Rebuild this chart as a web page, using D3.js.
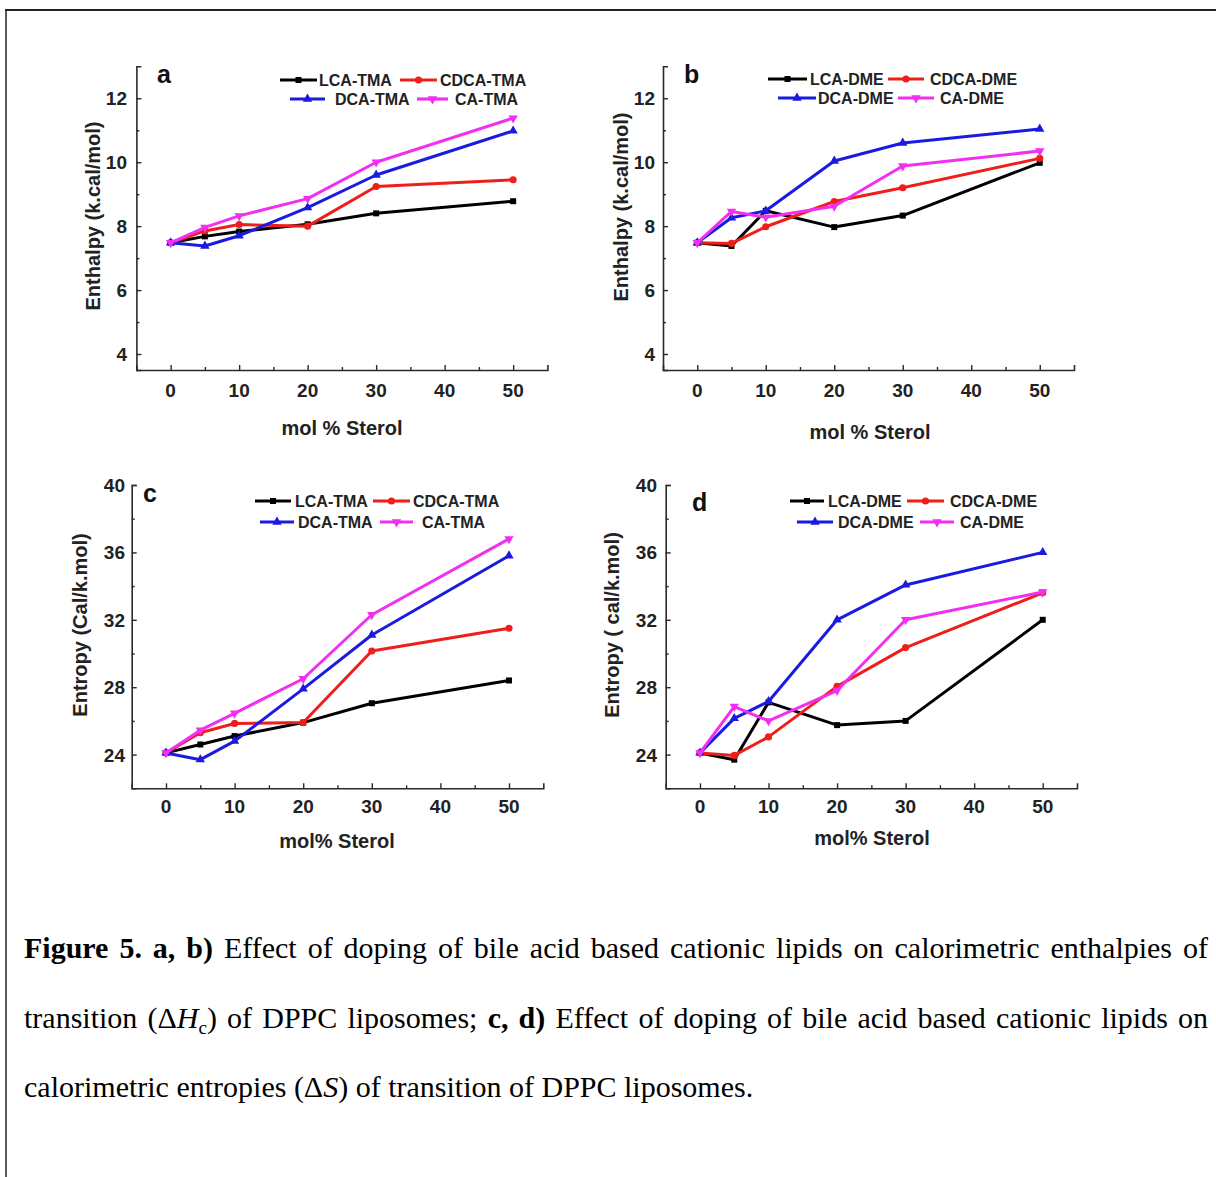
<!DOCTYPE html>
<html>
<head>
<meta charset="utf-8">
<script src="https://cdn.jsdelivr.net/npm/d3@7"></script>
<style>
  html, body { margin: 0; padding: 0; background: #fff; }
  svg { display: block; }
</style>
</head>
<body>
<script>
// ---------------- DATA ----------------
const molPercent = [0, 5, 10, 20, 30, 50];
const xTicks = [0, 10, 20, 30, 40, 50];
const enthalpyTicks = [4, 6, 8, 10, 12];
const entropyTicks = [24, 28, 32, 36, 40];

const seriesTMA = ["LCA-TMA", "CDCA-TMA", "DCA-TMA", "CA-TMA"];
const seriesDME = ["LCA-DME", "CDCA-DME", "DCA-DME", "CA-DME"];

// panel a: enthalpy, TMA
const enthalpyLCA_TMA  = [7.48, 7.68, 7.83, 8.06, 8.40, 8.78];
const enthalpyCDCA_TMA = [7.48, 7.85, 8.05, 8.00, 9.24, 9.45];
const enthalpyDCA_TMA  = [7.48, 7.38, 7.70, 8.58, 9.60, 10.98];
const enthalpyCA_TMA   = [7.48, 7.96, 8.32, 8.86, 10.00, 11.38];

// panel b: enthalpy, DME
const enthalpyLCA_DME  = [7.48, 7.38, 8.48, 7.97, 8.33, 9.98];
const enthalpyCDCA_DME = [7.48, 7.46, 7.98, 8.77, 9.20, 10.12];
const enthalpyDCA_DME  = [7.48, 8.26, 8.48, 10.04, 10.60, 11.04];
const enthalpyCA_DME   = [7.48, 8.46, 8.28, 8.62, 9.88, 10.35];

// panel c: entropy, TMA
const entropyLCA_TMA  = [24.1, 24.6, 25.1, 25.9, 27.05, 28.4];
const entropyCDCA_TMA = [24.1, 25.3, 25.85, 25.9, 30.15, 31.5];
const entropyDCA_TMA  = [24.1, 23.7, 24.8, 27.9, 31.1, 35.8];
const entropyCA_TMA   = [24.1, 25.45, 26.45, 28.5, 32.3, 36.8];

// panel d: entropy, DME
const entropyLCA_DME  = [24.1, 23.7, 27.1, 25.75, 26.0, 32.0];
const entropyCDCA_DME = [24.1, 23.95, 25.05, 28.05, 30.35, 33.6];
const entropyDCA_DME  = [24.1, 26.15, 27.15, 32.0, 34.07, 36.0];
const entropyCA_DME   = [24.1, 26.85, 26.0, 27.8, 32.0, 33.65];

// ---------------- STYLE ----------------
const colors = ["#000000", "#ee1f1a", "#1a1ae0", "#f22ff0"];
const symbols = [d3.symbolSquare, d3.symbolCircle, d3.symbolTriangle, "down"];

const W = 1216, H = 1177;
const svg = d3.select("body").append("svg")
  .attr("width", W).attr("height", H)
  .style("font-family", "'Liberation Sans', Arial, sans-serif");

// border
svg.append("line").attr("x1", 5).attr("x2", W).attr("y1", 10).attr("y2", 10)
  .attr("stroke", "#222").attr("stroke-width", 2);
svg.append("line").attr("x1", 6).attr("x2", 6).attr("y1", 10).attr("y2", H)
  .attr("stroke", "#222").attr("stroke-width", 1.5);

const panels = [
  {
    letter: "a", letterX: 157, letterY: 83,
    xRange: [136.4, 547.4], yRange: [370, 66.3], yDomain: [3.5, 13],
    yTicks: enthalpyTicks, yMinor: [5, 7, 9, 11],
    xLabelY: 397, yLabelRight: 127,
    xTitle: "mol % Sterol", xTitleX: 342, xTitleY: 435,
    yTitle: "Enthalpy (k.cal/mol)", yTitleX: 93, yTitleY: 216,
    names: seriesTMA,
    values: [enthalpyLCA_TMA, enthalpyCDCA_TMA, enthalpyDCA_TMA, enthalpyCA_TMA],
    legend: [
      { y: 80, x1: 280, x2: 317, tx: 319 },
      { y: 80, x1: 400, x2: 437, tx: 440 },
      { y: 99, x1: 290, x2: 325, tx: 335 },
      { y: 99, x1: 417, x2: 448, tx: 455 }
    ]
  },
  {
    letter: "b", letterX: 684, letterY: 83,
    xRange: [663, 1074], yRange: [370, 66.3], yDomain: [3.5, 13],
    yTicks: enthalpyTicks, yMinor: [5, 7, 9, 11],
    xLabelY: 397, yLabelRight: 655,
    xTitle: "mol % Sterol", xTitleX: 870, xTitleY: 439,
    yTitle: "Enthalpy (k.cal/mol)", yTitleX: 621, yTitleY: 207,
    names: seriesDME,
    values: [enthalpyLCA_DME, enthalpyCDCA_DME, enthalpyDCA_DME, enthalpyCA_DME],
    legend: [
      { y: 79, x1: 768, x2: 807, tx: 810 },
      { y: 79, x1: 888, x2: 924, tx: 930 },
      { y: 98, x1: 778, x2: 816, tx: 818 },
      { y: 98, x1: 898, x2: 934, tx: 940 }
    ]
  },
  {
    letter: "c", letterX: 143, letterY: 502,
    xRange: [131.7, 543.3], yRange: [788.3, 485], yDomain: [22, 40],
    yTicks: entropyTicks, yMinor: [26, 30, 34, 38],
    xLabelY: 813, yLabelRight: 125,
    xTitle: "mol% Sterol", xTitleX: 337, xTitleY: 848,
    yTitle: "Entropy (Cal/k.mol)", yTitleX: 80, yTitleY: 625,
    names: seriesTMA,
    values: [entropyLCA_TMA, entropyCDCA_TMA, entropyDCA_TMA, entropyCA_TMA],
    legend: [
      { y: 501, x1: 255, x2: 291, tx: 295 },
      { y: 501, x1: 373, x2: 410, tx: 413 },
      { y: 522, x1: 260, x2: 294, tx: 298 },
      { y: 522, x1: 380, x2: 413, tx: 422 }
    ]
  },
  {
    letter: "d", letterX: 692, letterY: 511,
    xRange: [665.7, 1077], yRange: [788.3, 485], yDomain: [22, 40],
    yTicks: entropyTicks, yMinor: [26, 30, 34, 38],
    xLabelY: 813, yLabelRight: 657,
    xTitle: "mol% Sterol", xTitleX: 872, xTitleY: 845,
    yTitle: "Entropy ( cal/k.mol)", yTitleX: 612, yTitleY: 625,
    names: seriesDME,
    values: [entropyLCA_DME, entropyCDCA_DME, entropyDCA_DME, entropyCA_DME],
    legend: [
      { y: 501, x1: 790, x2: 824, tx: 828 },
      { y: 501, x1: 907, x2: 944, tx: 950 },
      { y: 522, x1: 797, x2: 833, tx: 838 },
      { y: 522, x1: 920, x2: 954, tx: 960 }
    ]
  }
];

function marker(g, i, x, y) {
  const c = colors[i];
  if (symbols[i] === "down") {
    g.append("path")
      .attr("d", d3.symbol().type(d3.symbolTriangle).size(38)())
      .attr("transform", `translate(${x},${y}) rotate(180)`)
      .attr("fill", c);
  } else {
    const size = i === 0 ? 36 : (i === 1 ? 40 : 38);
    g.append("path")
      .attr("d", d3.symbol().type(symbols[i]).size(size)())
      .attr("transform", `translate(${x},${y})`)
      .attr("fill", c);
  }
}

const axisColor = "#2a2a2a";

panels.forEach(p => {
  const g = svg.append("g");
  const x = d3.scaleLinear().domain([-5, 55]).range(p.xRange);
  const y = d3.scaleLinear().domain(p.yDomain).range(p.yRange);

  // x axis (ticks inward)
  const xAxis = g.append("g").attr("transform", `translate(0,${p.yRange[0]})`)
    .call(d3.axisTop(x).tickValues(xTicks).tickSize(5).tickFormat(""));
  const xMinor = g.append("g").attr("transform", `translate(0,${p.yRange[0]})`)
    .call(d3.axisTop(x).tickValues([5, 15, 25, 35, 45]).tickSize(3).tickFormat(""));
  [xAxis, xMinor].forEach(a => {
    a.select(".domain").attr("stroke", axisColor).attr("stroke-width", 1.6);
    a.selectAll(".tick line").attr("stroke", axisColor).attr("stroke-width", 1.4);
  });
  xMinor.select(".domain").remove();

  // x tick labels
  g.selectAll(".xl").data(xTicks).enter().append("text")
    .attr("x", d => x(d)).attr("y", p.xLabelY)
    .attr("text-anchor", "middle")
    .attr("font-size", 19).attr("font-weight", "bold").attr("fill", "#222")
    .text(d => d);

  // y axis (ticks inward)
  const yAxis = g.append("g").attr("transform", `translate(${p.xRange[0]},0)`)
    .call(d3.axisRight(y).tickValues(p.yTicks).tickSize(5).tickFormat(""));
  const yMinor = g.append("g").attr("transform", `translate(${p.xRange[0]},0)`)
    .call(d3.axisRight(y).tickValues(p.yMinor).tickSize(3).tickFormat(""));
  [yAxis, yMinor].forEach(a => {
    a.select(".domain").attr("stroke", axisColor).attr("stroke-width", 1.6);
    a.selectAll(".tick line").attr("stroke", axisColor).attr("stroke-width", 1.4);
  });
  yMinor.select(".domain").remove();

  g.selectAll(".yl").data(p.yTicks).enter().append("text")
    .attr("x", p.yLabelRight).attr("y", d => y(d) + 7)
    .attr("text-anchor", "end")
    .attr("font-size", 19).attr("font-weight", "bold").attr("fill", "#222")
    .text(d => d);

  // titles
  g.append("text").attr("x", p.xTitleX).attr("y", p.xTitleY)
    .attr("text-anchor", "middle").attr("font-size", 20).attr("font-weight", "bold")
    .attr("fill", "#222").text(p.xTitle);
  g.append("text")
    .attr("transform", `translate(${p.yTitleX + 7},${p.yTitleY}) rotate(-90)`)
    .attr("text-anchor", "middle").attr("font-size", 20).attr("font-weight", "bold")
    .attr("fill", "#222").text(p.yTitle);

  // panel letter
  g.append("text").attr("x", p.letterX).attr("y", p.letterY)
    .attr("font-size", 25).attr("font-weight", "bold").attr("fill", "#111")
    .text(p.letter);

  // series
  const line = d3.line().x((d, i) => x(molPercent[i])).y(d => y(d));
  p.values.forEach((vals, si) => {
    g.append("path").datum(vals).attr("d", line)
      .attr("fill", "none").attr("stroke", colors[si]).attr("stroke-width", 3)
      .attr("stroke-linejoin", "round");
    vals.forEach((v, i) => marker(g, si, x(molPercent[i]), y(v)));
  });

  // legend
  p.names.forEach((name, si) => {
    const L = p.legend[si];
    g.append("line").attr("x1", L.x1).attr("x2", L.x2).attr("y1", L.y).attr("y2", L.y)
      .attr("stroke", colors[si]).attr("stroke-width", 3.2);
    marker(g, si, (L.x1 + L.x2) / 2, L.y);
    g.append("text").attr("x", L.tx).attr("y", L.y + 5.5)
      .attr("font-size", 16).attr("font-weight", "bold").attr("fill", "#222")
      .text(name);
  });
});

// ---------------- CAPTION ----------------
const captionLines = [
  { y: 958, justify: true, parts: [
    { t: "Figure 5. a, b)", w: "bold" },
    { t: " Effect of doping of bile acid based cationic lipids on calorimetric enthalpies of" }
  ]},
  { y: 1028, justify: true, parts: [
    { t: "transition (\u0394" },
    { t: "H", s: "italic" },
    { t: "c", sub: true },
    { t: ") of DPPC liposomes; " },
    { t: "c, d)", w: "bold" },
    { t: " Effect of doping of bile acid based cationic lipids on" }
  ]},
  { y: 1097, justify: false, parts: [
    { t: "calorimetric entropies (\u0394" },
    { t: "S", s: "italic" },
    { t: ") of transition of DPPC liposomes." }
  ]}
];

captionLines.forEach(L => {
  const t = svg.append("text").attr("x", 24).attr("y", L.y)
    .attr("font-family", "'Liberation Serif', 'Times New Roman', serif")
    .attr("font-size", 30).attr("fill", "#000")
    .attr("xml:space", "preserve");
  L.parts.forEach(pt => {
    const ts = t.append("tspan").text(pt.t);
    if (pt.w) ts.attr("font-weight", pt.w);
    if (pt.s) ts.attr("font-style", pt.s);
    if (pt.sub) { ts.attr("font-size", 19).attr("dy", 6); }
  });
  t.selectAll("tspan").each(function(d, i) {
    if (i > 0 && L.parts[i - 1].sub) d3.select(this).attr("dy", -6);
  });
  if (L.justify) {
    const natural = t.node().getComputedTextLength();
    const full = L.parts.map(p => p.t).join("");
    const gaps = (full.match(/ /g) || []).length;
    const target = 1208 - 24;
    if (gaps > 0) t.attr("word-spacing", (target - natural) / gaps);
  }
});
</script>
</body>
</html>
